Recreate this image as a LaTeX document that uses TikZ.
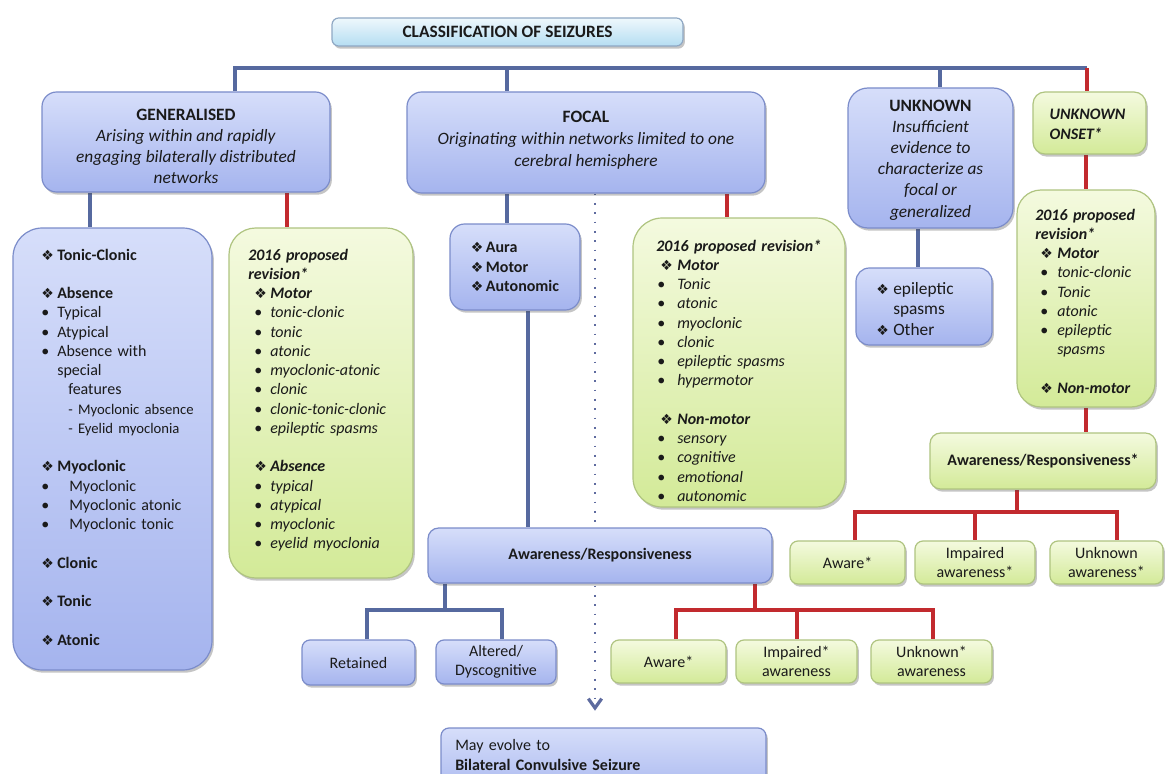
\documentclass[tikz,border=0pt]{standalone}
\usepackage{fontspec}
\setmainfont{Carlito}
\newfontfamily\symf{DejaVu Sans}
\usetikzlibrary{fit,shadows,arrows.meta,calc}
\pgfdeclarelayer{bg}
\pgfsetlayers{bg,main}
\definecolor{bboxtop}{HTML}{D6DEFA}
\definecolor{bboxbot}{HTML}{A5B4EE}
\definecolor{bborder}{HTML}{7B8CCA}
\definecolor{gboxtop}{HTML}{F4FADF}
\definecolor{gboxbot}{HTML}{D3EA98}
\definecolor{gborder}{HTML}{AFC480}
\definecolor{ttop}{HTML}{EEF8FC}
\definecolor{tbot}{HTML}{B5DDF2}
\definecolor{tborder}{HTML}{8FA8C4}
\definecolor{blinec}{HTML}{56699F}
\definecolor{rlinec}{HTML}{C22A2E}
\definecolor{dotc}{HTML}{5E6B9F}
\definecolor{txt}{HTML}{1A1A1A}
\newcommand\fL{\fontsize{12}{14.44}\selectfont}
\newcommand\fH{\fontsize{13}{15.75}\selectfont}
\newcommand\dm{{\symf\fontsize{10.5}{10}\selectfont\char"2756}}
\newcommand\di[1][11.25pt]{\makebox[#1][l]{\dm}}
\newcommand\bu[1][11.25pt]{\makebox[#1][l]{\textbullet}}
\begin{document}
\begin{tikzpicture}[x=0.75pt,y=-0.75pt,
  bx/.style={draw, line width=0.9pt, inner sep=0pt,
    drop shadow={shadow xshift=1.4pt, shadow yshift=-2pt, opacity=0.32, fill=black!70}},
  bluebox/.style={bx, draw=bborder, top color=bboxtop, bottom color=bboxbot},
  greenbox/.style={bx, draw=gborder, top color=gboxtop, bottom color=gboxbot},
  titlebox/.style={bx, draw=tborder, top color=ttop, bottom color=tbot},
  ctxt/.style={inner sep=0pt, text=txt, align=center},
  ltxt/.style={inner sep=0pt, font=\fL, text=txt, align=left, anchor=base west},
  bconn/.style={draw=blinec, line width=2.6pt},
  rconn/.style={draw=rlinec, line width=2.6pt},
  dotconn/.style={draw=dotc, line width=2.2pt, dash pattern=on 1.4pt off 5.6pt}
]
\useasboundingbox (0,0) rectangle (1165,774);
\clip (0,0) rectangle (1165,774);

% ---------- boxes ----------
\node[titlebox, rounded corners=5pt, fit={(332,18) (683,46)}] (title) {};
\node[bluebox, rounded corners=11pt, fit={(42,92) (330,192)}] (gen) {};
\node[bluebox, rounded corners=11pt, fit={(407,92) (765,193)}] (foc) {};
\node[bluebox, rounded corners=15pt, fit={(848,88) (1013,228)}] (unk) {};
\node[greenbox, rounded corners=9pt, fit={(1033,92) (1146,154)}] (ons) {};
\node[bluebox, rounded corners=22pt, fit={(13,228) (212,670)}] (glist) {};
\node[greenbox, rounded corners=20pt, fit={(229,228) (413,578)}] (grev) {};
\node[bluebox, rounded corners=11pt, fit={(450,224) (580,310)}] (aura) {};
\node[greenbox, rounded corners=22pt, fit={(633,218) (845,507)}] (frev) {};
\node[bluebox, rounded corners=10pt, fit={(856,268) (992,345)}] (epi) {};
\node[greenbox, rounded corners=18pt, fit={(1017,190) (1155,407)}] (urev) {};
\node[bluebox, rounded corners=8pt, fit={(428,528) (772,583)}] (awb) {};
\node[bluebox, rounded corners=6pt, fit={(302,640) (415,685)}] (ret) {};
\node[bluebox, rounded corners=6pt, fit={(436,640) (556,684)}] (alt) {};
\node[greenbox, rounded corners=6pt, fit={(611,640) (726,683)}] (aw1) {};
\node[greenbox, rounded corners=6pt, fit={(736,640) (857,683)}] (im1) {};
\node[greenbox, rounded corners=6pt, fit={(871,640) (992,683)}] (un1) {};
\node[greenbox, rounded corners=8pt, fit={(930,433) (1156,489)}] (awg) {};
\node[greenbox, rounded corners=6pt, fit={(790,541) (905,584)}] (aw2) {};
\node[greenbox, rounded corners=6pt, fit={(915,541) (1035,584)}] (im2) {};
\node[greenbox, rounded corners=6pt, fit={(1050,541) (1163,584)}] (un2) {};
\node[bluebox, rounded corners=6pt, fit={(441,728) (766,800)}] (evo) {};

% ---------- centred texts ----------
\node[ctxt, font=\fH\bfseries] (titlet) at (title.center) {CLASSIFICATION OF SEIZURES};
\node[ctxt, font=\fH] (gent) at ($(gen.center)+(0,4)$)
  {\textbf{GENERALISED}\\\textit{Arising within and rapidly}\\\textit{engaging bilaterally distributed}\\\textit{networks}};
\node[ctxt, font=\fontsize{13}{16.5}\selectfont] (foct) at ($(foc.center)+(0,-2)$)
  {\textbf{FOCAL}\\\textit{Originating within networks limited to one}\\\textit{cerebral hemisphere}};
\node[ctxt, font=\fontsize{13}{15.9}\selectfont] (unkt) at ($(unk.center)+(0,2)$)
  {\textbf{UNKNOWN}\\\textit{Insufficient}\\\textit{evidence to}\\\textit{characterize as}\\\textit{focal or}\\\textit{generalized}};
\node[ctxt, align=left, font=\fontsize{12}{15}\selectfont\bfseries\itshape] (onst) at ($(ons.center)+(-2,1)$)
  {UNKNOWN\\ONSET*};
\node[ctxt, align=left, font=\fL\bfseries] (aurat) at (aura.center)
  {\di Aura\\\di Motor\\\di Autonomic};
\node[ctxt, font=\fL\bfseries] (awbt) at (awb.center) {Awareness/Responsiveness};
\node[ctxt, font=\fL] (rett) at (ret.center) {Retained};
\node[ctxt, font=\fontsize{12}{14.25}\selectfont] (altt) at (alt.center) {Altered/\\Dyscognitive};
\node[ctxt, font=\fL] (aw1t) at (aw1.center) {Aware*};
\node[ctxt, font=\fontsize{12}{14.25}\selectfont] (im1t) at (im1.center) {Impaired*\\awareness};
\node[ctxt, font=\fontsize{12}{14.25}\selectfont] (un1t) at (un1.center) {Unknown*\\awareness};
\node[ctxt, font=\fL\bfseries] (awgt) at (awg.center) {Awareness/Responsiveness*};
\node[ctxt, font=\fL] (aw2t) at (aw2.center) {Aware*};
\node[ctxt, font=\fontsize{12}{14.25}\selectfont] (im2t) at (im2.center) {Impaired\\awareness*};
\node[ctxt, font=\fontsize{12}{14.25}\selectfont] (un2t) at (un2.center) {Unknown\\awareness*};

% ---------- list texts ----------
\node[ltxt, text width=165pt] (gltxt) at (41,260) {%
\textbf{\di[12pt]Tonic-Clonic}\\[14.44pt]
\textbf{\di[12pt]Absence}\\
\bu[12pt]Typical\\
\bu[12pt]Atypical\\
\bu[12pt]Absence with\\
\hspace*{12pt}special\\
\hspace*{20.25pt}features\\
\hspace*{20.25pt}{\fontsize{11}{14.44}\selectfont - Myoclonic absence}\\
\hspace*{20.25pt}{\fontsize{11}{14.44}\selectfont - Eyelid myoclonia}\\[14.44pt]
\textbf{\di[12pt]Myoclonic}\\
\bu[21pt]Myoclonic\\
\bu[21pt]Myoclonic atonic\\
\bu[21pt]Myoclonic tonic\\[14.44pt]
\textbf{\di[12pt]Clonic}\\[14.44pt]
\textbf{\di[12pt]Tonic}\\[14.44pt]
\textbf{\di[12pt]Atonic}};

\node[ltxt, text width=135pt] (grtxt) at (248,260) {%
\textbf{\textit{2016 proposed}}\\
\textbf{\textit{revision*}}\\
\hspace*{4.5pt}\textbf{\textit{\di[12pt]Motor}}\\
\hspace*{4.5pt}\bu[12pt]\textit{tonic-clonic}\\
\hspace*{4.5pt}\bu[12pt]\textit{tonic}\\
\hspace*{4.5pt}\bu[12pt]\textit{atonic}\\
\hspace*{4.5pt}\bu[12pt]\textit{myoclonic-atonic}\\
\hspace*{4.5pt}\bu[12pt]\textit{clonic}\\
\hspace*{4.5pt}\bu[12pt]\textit{clonic-tonic-clonic}\\
\hspace*{4.5pt}\bu[12pt]\textit{epileptic spasms}\\[14.44pt]
\hspace*{4.5pt}\textbf{\textit{\di[12pt]Absence}}\\
\hspace*{4.5pt}\bu[12pt]\textit{typical}\\
\hspace*{4.5pt}\bu[12pt]\textit{atypical}\\
\hspace*{4.5pt}\bu[12pt]\textit{myoclonic}\\
\hspace*{4.5pt}\bu[12pt]\textit{eyelid myoclonia}};

\node[ltxt, text width=150pt] (frtxt) at (656,251) {%
\textbf{\textit{2016 proposed revision*}}\\
\hspace*{3pt}\textbf{\textit{\di[12.75pt]Motor}}\\
\hspace*{0.75pt}\bu[15pt]\textit{Tonic}\\
\hspace*{0.75pt}\bu[15pt]\textit{atonic}\\
\hspace*{0.75pt}\bu[15pt]\textit{myoclonic}\\
\hspace*{0.75pt}\bu[15pt]\textit{clonic}\\
\hspace*{0.75pt}\bu[15pt]\textit{epileptic spasms}\\
\hspace*{0.75pt}\bu[15pt]\textit{hypermotor}\\[14.44pt]
\hspace*{3pt}\textbf{\textit{\di[12.75pt]Non-motor}}\\
\hspace*{0.75pt}\bu[15pt]\textit{sensory}\\
\hspace*{0.75pt}\bu[15pt]\textit{cognitive}\\
\hspace*{0.75pt}\bu[15pt]\textit{emotional}\\
\hspace*{0.75pt}\bu[15pt]\textit{autonomic}};

\node[ltxt, text width=100pt] (urtxt) at (1035,220) {%
\textbf{\textit{2016 proposed}}\\
\textbf{\textit{revision*}}\\
\hspace*{3.75pt}\textbf{\textit{\di[12.75pt]Motor}}\\
\hspace*{3.75pt}\bu[12.75pt]\textit{tonic-clonic}\\
\hspace*{3.75pt}\bu[12.75pt]\textit{Tonic}\\
\hspace*{3.75pt}\bu[12.75pt]\textit{atonic}\\
\hspace*{3.75pt}\bu[12.75pt]\textit{epileptic}\\
\hspace*{16.5pt}\textit{spasms}\\[14.44pt]
\hspace*{3.75pt}\textbf{\textit{\di[12.75pt]Non-motor}}};

\node[ltxt, text width=90pt, font=\fontsize{13}{15.4}\selectfont] (eptxt) at (876,294) {%
\di[12.75pt]epileptic\\
\hspace*{12.75pt}spasms\\
\di[12.75pt]Other};

\node[ltxt, text width=220pt, font=\fontsize{12}{15}\selectfont] (evtxt) at (455,750) {%
May evolve to\\
\textbf{Bilateral Convulsive Seizure}};

% ---------- connectors ----------
\begin{pgfonlayer}{bg}
\fill[white] (0,0) rectangle (1165,774);
\coordinate (busL) at (235,68);
\coordinate (busR) at (1087,68);
\coordinate (cA) at (90,0);
\coordinate (cB) at (287,0);
\coordinate (cC) at (507,0);
\coordinate (cD) at (595,0);
\coordinate (cE) at (727,0);
\coordinate (cF) at (528,0);
\coordinate (cG) at (445,0);
\coordinate (cH) at (367,0);
\coordinate (cI) at (502,0);
\coordinate (cJ) at (755,0);
\coordinate (cK) at (676,0);
\coordinate (cL) at (797,0);
\coordinate (cM) at (933,0);
\coordinate (cN) at (918,0);
\coordinate (cO) at (1086,0);
\coordinate (cP) at (1017,0);
\coordinate (cQ) at (855,0);
\coordinate (cR) at (975,0);
\coordinate (cS) at (1117,0);
\coordinate (cU) at (940,0);
\coordinate (r1) at (0,610);
\coordinate (r2) at (0,512);

\draw[bconn] (gen.north -| busL) -- (busL) -- (busR);
\draw[bconn] (foc.north -| cC) -- (cC |- busL);
\draw[bconn] (unk.north -| cU) -- (cU |- busL);
\draw[rconn] (busR) -- (ons.north -| busR);

\draw[bconn] (gen.south -| cA) -- (glist.north -| cA);
\draw[rconn] (gen.south -| cB) -- (grev.north -| cB);
\draw[bconn] (foc.south -| cC) -- (aura.north -| cC);
\draw[rconn] (foc.south -| cE) -- (frev.north -| cE);
\draw[dotconn, -{Straight Barb[length=7pt,width=10pt,line width=2.4pt]}, shorten >=12.5pt] (foc.south -| cD) -- (evo.north -| cD);
\draw[bconn] (aura.south -| cF) -- (awb.north -| cF);

\draw[bconn] (awb.south -| cG) -- (cG |- r1);
\draw[bconn] (ret.north -| cH) -- (cH |- r1) -- (cI |- r1) -- (alt.north -| cI);
\draw[rconn] (awb.south -| cJ) -- (cJ |- r1);
\draw[rconn] (aw1.north -| cK) -- (cK |- r1) -- (cM |- r1) -- (un1.north -| cM);
\draw[rconn] (cL |- r1) -- (im1.north -| cL);

\draw[bconn] (unk.south -| cN) -- (epi.north -| cN);
\draw[rconn] (ons.south -| cO) -- (urev.north -| cO);
\draw[rconn] (urev.south -| cO) -- (awg.north -| cO);
\draw[rconn] (awg.south -| cP) -- (cP |- r2);
\draw[rconn] (aw2.north -| cQ) -- (cQ |- r2) -- (cS |- r2) -- (un2.north -| cS);
\draw[rconn] (cR |- r2) -- (im2.north -| cR);
\end{pgfonlayer}
\end{tikzpicture}
\end{document}
